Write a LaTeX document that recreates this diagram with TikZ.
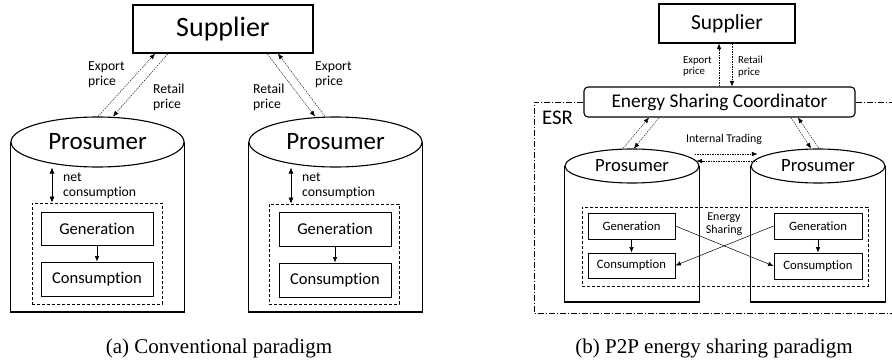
\documentclass[tikz,border=0pt]{standalone}
\usepackage{fontspec}
\setmainfont{Carlito}[Ligatures=NoCommon]
\newfontfamily\capfont{Liberation Serif}
\usetikzlibrary{shapes.geometric,arrows.meta}

\begin{document}
\begin{tikzpicture}[x=1pt,y=-1pt,
        blk/.style={draw,line width=0.9pt,inner sep=0pt},
        pros/.style={draw,ellipse,line width=1.1pt,inner sep=0pt},
        grp/.style={draw,dash pattern=on 3pt off 2pt,line width=0.8pt,inner sep=0pt},
        price/.style={-{Latex[length=5.5pt,width=4.5pt]},line width=0.4pt,dash pattern=on 1.5pt off 1pt},
        flow/.style={-{Latex[length=5.5pt,width=4.5pt]},line width=0.5pt},
        lbl/.style={align=left,inner sep=0pt}]
    \useasboundingbox (0,0) rectangle (892,364);

    % (a) conventional
    \node[blk,line width=1.3pt,minimum width=180pt,minimum height=48pt,font=\fontsize{28}{30}\selectfont] (sa) at (223,29) {Supplier};
    \foreach \n/\x in {1/97.5,2/335.5} {
        \node[pros,minimum width=173pt,minimum height=50pt,font=\fontsize{25}{27}\selectfont] (pa\n) at (\x,142) {Prosumer};
        \draw[line width=1.1pt] (pa\n.west) -- (pa\n.west |- 0,312) -- (pa\n.east |- 0,312) -- (pa\n.east);
    }
    \node[grp,minimum width=130pt,minimum height=101pt] (da1) at (97,253.5) {};
    \node[grp,minimum width=130pt,minimum height=100pt] (da2) at (334,254) {};
    \node[blk,minimum width=112pt,minimum height=33pt,font=\fontsize{16.5}{18}\selectfont] (ga1) at (97,228.5) {Generation};
    \node[blk,minimum width=112pt,minimum height=34pt,font=\fontsize{16.5}{18}\selectfont] (ca1) at (97,279) {Consumption};
    \node[blk,minimum width=112pt,minimum height=34pt,font=\fontsize{16.5}{18}\selectfont] (ga2) at (335,229) {Generation};
    \node[blk,minimum width=112pt,minimum height=34pt,font=\fontsize{16.5}{18}\selectfont] (ca2) at (335,280) {Consumption};
    \draw[flow] (ga1) -- (ca1);
    \draw[flow] (ga2) -- (ca2);
    \draw[{Latex[length=6pt,width=5pt]}-{Latex[length=6pt,width=5pt]},line width=0.6pt] ([xshift=-45.5pt]pa1.south) -- ([xshift=-45pt]da1.north);
    \draw[{Latex[length=6pt,width=5pt]}-{Latex[length=6pt,width=5pt]},line width=0.6pt] ([xshift=-44.5pt]pa2.south) -- ([xshift=-43pt]da2.north);
    \node[lbl,anchor=west,font=\fontsize{13.7}{15}\selectfont] (na1) at (63,185.5) {net\\consumption};
    \node[lbl,anchor=west,font=\fontsize{13.7}{15}\selectfont] (na2) at (302,186) {net\\consumption};

    \draw[price] ([xshift=0.5pt]pa1.north) -- ([xshift=-68pt]sa.south);
    \draw[price] ([xshift=-55pt]sa.south) -- ([xshift=15.5pt]pa1.north);
    \draw[price] ([xshift=44pt]sa.south) -- ([xshift=-20.5pt]pa2.north);
    \draw[price] ([xshift=-10.5pt]pa2.north) -- ([xshift=55pt]sa.south);
    \node[lbl,anchor=west,font=\fontsize{13.7}{15}\selectfont] (xa1) at (88,75) {Export\\price};
    \node[lbl,anchor=west,font=\fontsize{13.7}{15}\selectfont] (ra1) at (153,97) {Retail\\price};
    \node[lbl,anchor=west,font=\fontsize{13.7}{15}\selectfont] (ra2) at (253,97) {Retail\\price};
    \node[lbl,anchor=west,font=\fontsize{13.7}{15}\selectfont] (xa2) at (315,75) {Export\\price};

    \node[font=\capfont\fontsize{21}{24}\selectfont] (capa) at (219,348) {(a) Conventional paradigm};

    % (b) P2P energy sharing
    \node[blk,line width=1.1pt,minimum width=136pt,minimum height=39pt,font=\fontsize{21.5}{23}\selectfont] (sb) at (727,23.5) {Supplier};
    \node[blk,rounded corners=4pt,line width=1.1pt,minimum width=271pt,minimum height=30pt,font=\fontsize{19.4}{21}\selectfont] (cc) at (719.5,102) {Energy Sharing Coordinator};
    \draw[line width=0.6pt,dash pattern=on 6pt off 2pt on 1pt off 2pt] (cc.west) -- (534,102) -- (534,313) -- (892,313);
    \draw[line width=0.6pt,dash pattern=on 6pt off 2pt on 1pt off 2pt] (cc.east) -- (892,102);
    \node[anchor=west,inner sep=0pt,font=\fontsize{20.8}{22}\selectfont] (esr) at (542,117.5) {ESR};

    \draw[price] ([xshift=-0.5pt]cc.north) -- ([xshift=-8pt]sb.south);
    \draw[price] ([xshift=5pt]sb.south) -- ([xshift=12.5pt]cc.north);
    \node[lbl,anchor=east,font=\fontsize{10.8}{11.5}\selectfont] (xb) at (712,66.5) {Export\\price};
    \node[lbl,anchor=west,font=\fontsize{10.8}{11.5}\selectfont] (rb) at (738,66.5) {Retail\\price};

    \node[grp,minimum width=286pt,minimum height=79pt] (ds) at (725,246.5) {};
    \foreach \n/\x in {l/632,r/818} {
        \node[pros,minimum width=134pt,minimum height=34pt,font=\fontsize{18.7}{20}\selectfont] (p\n) at (\x,166) {Prosumer};
        \draw[line width=1.1pt] (p\n.west) -- (p\n.west |- 0,302) -- (p\n.east |- 0,302) -- (p\n.east);
    }
    \node[blk,minimum width=87pt,minimum height=26pt,font=\fontsize{12.7}{14}\selectfont] (gl) at (631.5,226) {Generation};
    \node[blk,minimum width=87pt,minimum height=25pt,font=\fontsize{12.7}{14}\selectfont] (cl) at (631.5,265.5) {Consumption};
    \node[blk,minimum width=88pt,minimum height=26pt,font=\fontsize{12.7}{14}\selectfont] (gr) at (818,226) {Generation};
    \node[blk,minimum width=88pt,minimum height=26pt,font=\fontsize{12.7}{14}\selectfont] (cr) at (818,266) {Consumption};
    \node[align=center,inner sep=0pt,font=\fontsize{12}{13}\selectfont] (es) at (724,224.5) {Energy\\Sharing};
    \draw[flow] (gl) -- (cl);
    \draw[flow] (gr) -- (cr);
    \draw[flow] (gl.east) -- (cr.west);
    \draw[flow] (gr.west) -- (cl.east);

    \draw[price] ([xshift=-9pt]pl.north) -- ([xshift=-70.5pt]cc.south);
    \draw[price] ([xshift=-60.5pt]cc.south) -- ([xshift=2pt]pl.north);
    \draw[price] ([xshift=71.5pt]cc.south) -- ([xshift=-7pt]pr.north);
    \draw[price] ([xshift=1pt]pr.north) -- ([xshift=78.5pt]cc.south);
    \draw[price] ([xshift=-5pt,yshift=12pt]pl.east) -- ([xshift=7pt,yshift=12pt]pr.west);
    \draw[price] ([xshift=7pt,yshift=5pt]pr.west) -- ([xshift=-3pt,yshift=5pt]pl.east);
    \node[inner sep=0pt,font=\fontsize{11.9}{13}\selectfont] (it) at (724,139) {Internal Trading};

    \node[font=\capfont\fontsize{21}{24}\selectfont] (capb) at (714,348) {(b) P2P energy sharing paradigm};
\end{tikzpicture}
\end{document}
